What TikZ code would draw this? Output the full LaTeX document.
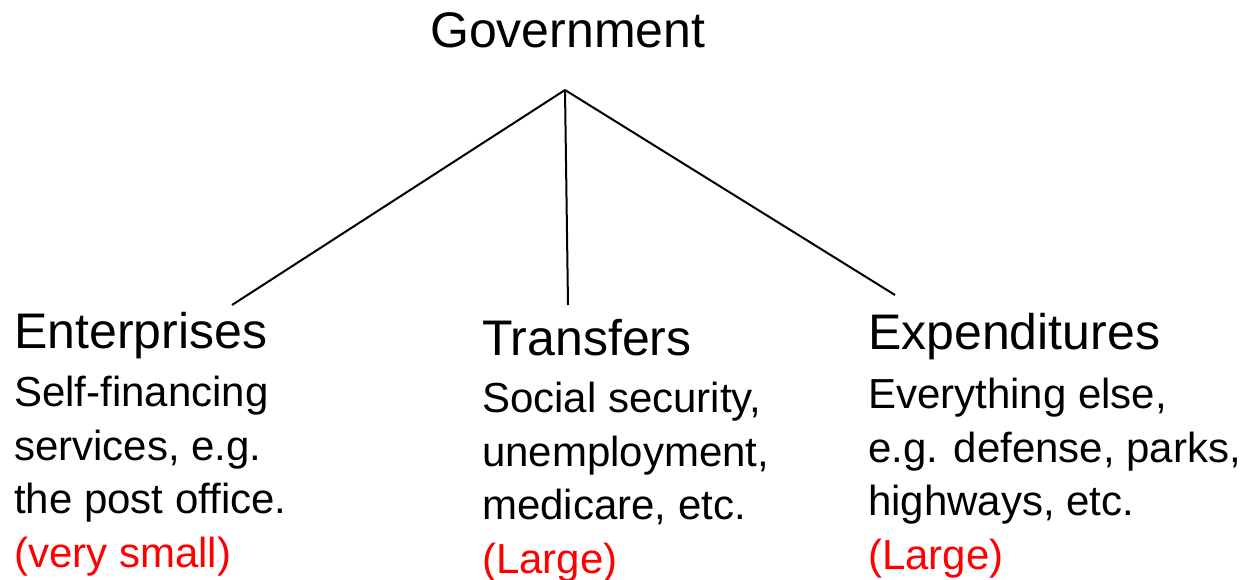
\documentclass[tikz,border=0pt]{standalone}
\usepackage{fontspec}
\setmainfont{Liberation Sans}
\begin{document}
\begin{tikzpicture}[x=1pt,y=-1pt,
  head/.style={anchor=base west,inner sep=0pt,font=\fontsize{50}{60}\selectfont},
  body/.style={anchor=base west,inner sep=0pt,align=left,font=\fontsize{42}{53.5}\selectfont},
  link/.style={line width=2pt,black}]
\useasboundingbox (0,0) rectangle (1247,579);
\node[head] (gov) at (430,47) {Government};
\node[head] (ent) at (14,348) {Enterprises};
\node[body] (entb) at (14,567) {Self-financing\\services, e.g.\\the post office.\\\textcolor{red}{(very small)}};
\node[head] (tra) at (482,355) {Transfers};
\node[body] (trab) at (482,573) {Social security,\\unemployment,\\medicare, etc.\\\textcolor{red}{(Large)}};
\node[head] (exp) at (868,349) {Expenditures};
\node[body] (expb) at (868,569) {Everything else,\\e.g. defense, parks,\\highways, etc.\\\textcolor{red}{(Large)}};
\coordinate (apex) at (565,90);
\coordinate (ee) at (232,305);
\coordinate (te) at (568,305);
\coordinate (xe) at (895,295);
\draw[link] (apex) -- (ee);
\draw[link] (apex) -- (te);
\draw[link] (apex) -- (xe);
\end{tikzpicture}
\end{document}
